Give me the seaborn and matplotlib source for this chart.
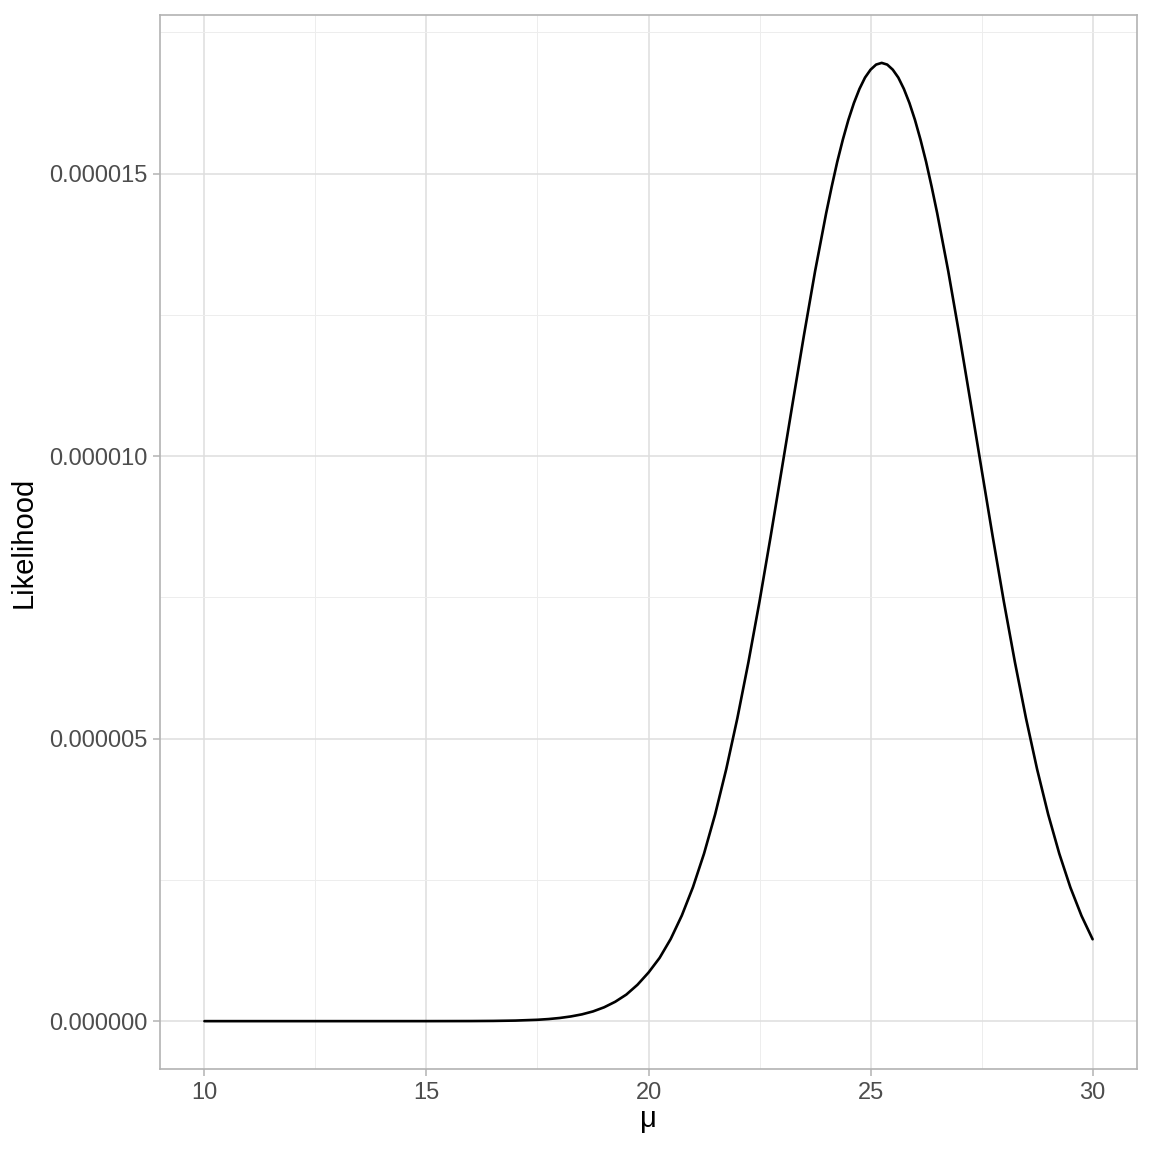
import matplotlib
matplotlib.use("Agg")
import matplotlib.pyplot as plt
import seaborn as sns
import pandas as pd
from matplotlib.ticker import MultipleLocator, FixedLocator

# values (likelihood in units of 1e-6)
mu = [10, 12, 14, 15, 16, 16.5, 17, 17.5, 17.75, 18, 18.25, 18.5, 18.75, 19,
      19.25, 19.5, 19.75, 20, 20.25, 20.5,
      20.75, 21, 21.25, 21.5, 21.75, 22, 22.25, 22.5, 22.75, 23, 23.25, 23.5,
      23.75, 24, 24.125, 24.25, 24.375, 24.5, 24.625, 24.75, 24.875, 25,
      25.125, 25.25, 25.375, 25.5, 25.625, 25.75, 25.875, 26, 26.125, 26.25,
      26.375, 26.5, 26.75, 27, 27.25, 27.5, 27.75, 28, 28.25, 28.5, 28.75, 29,
      29.25, 29.5, 29.75, 30]
lik_e6 = [0, 0, 0, 0.0002, 0.0015, 0.004, 0.010, 0.024, 0.037, 0.056, 0.083,
          0.12, 0.172, 0.245, 0.343, 0.47, 0.643, 0.86, 1.12, 1.455,
          1.87, 2.37, 2.965, 3.66, 4.46, 5.36, 6.355,
          7.43, 8.578, 9.766, 10.96, 12.14, 13.27, 14.30, 14.77, 15.21, 15.60,
          15.95, 16.25, 16.50, 16.70, 16.84, 16.93, 16.96, 16.93, 16.84, 16.70,
          16.50, 16.25, 15.95, 15.60, 15.21, 14.77, 14.30, 13.27, 12.14, 10.96,
          9.766, 8.578, 7.43, 6.355, 5.36, 4.459, 3.658, 2.963, 2.365, 1.864,
          1.449]

y_ticks = [0, 5e-6, 1e-5, 1.5e-5]
y_tick_labels = ["0.000000", "0.000005", "0.000010", "0.000015"]
x_ticks = [10, 15, 20, 25, 30]

df = pd.DataFrame({"mu": mu, "likelihood": [v * 1e-6 for v in lik_e6]})

sns.set_style("white")
plt.rcParams["font.family"] = ["Liberation Sans", "DejaVu Sans"]

fig = plt.figure(figsize=(11.52, 11.52), dpi=100)
ax = fig.add_axes([0.1389, 0.072, 0.8481, 0.915])

sns.lineplot(data=df, x="mu", y="likelihood", color="black", linewidth=1.9,
             ax=ax, zorder=3)

ax.set_xlim(9, 31)
ymax = max(df["likelihood"])
ax.set_ylim(-0.05 * ymax, 1.05 * ymax)

ax.xaxis.set_major_locator(FixedLocator(x_ticks))
ax.xaxis.set_minor_locator(MultipleLocator(2.5))
ax.yaxis.set_major_locator(FixedLocator(y_ticks))
ax.yaxis.set_minor_locator(FixedLocator([2.5e-6, 7.5e-6, 1.25e-5, 1.75e-5]))
ax.set_yticklabels(y_tick_labels)

ax.grid(which="major", color="#DEDEDE", linewidth=1.1, zorder=0)
ax.grid(which="minor", color="#EDEDED", linewidth=0.7, zorder=0)
ax.set_axisbelow(True)

for s in ax.spines.values():
    s.set_color("#B3B3B3")
    s.set_linewidth(1.2)

ax.tick_params(which="major", length=5, width=1.1, color="#B3B3B3",
               labelsize=17, labelcolor="#4D4D4D", pad=4, bottom=True, left=True)
ax.tick_params(which="minor", length=0)

ax.set_xlabel("μ", fontsize=21, color="black", labelpad=1)
ax.set_ylabel("Likelihood", fontsize=21, color="black", labelpad=8)

fig.savefig("out.png", dpi=100)
